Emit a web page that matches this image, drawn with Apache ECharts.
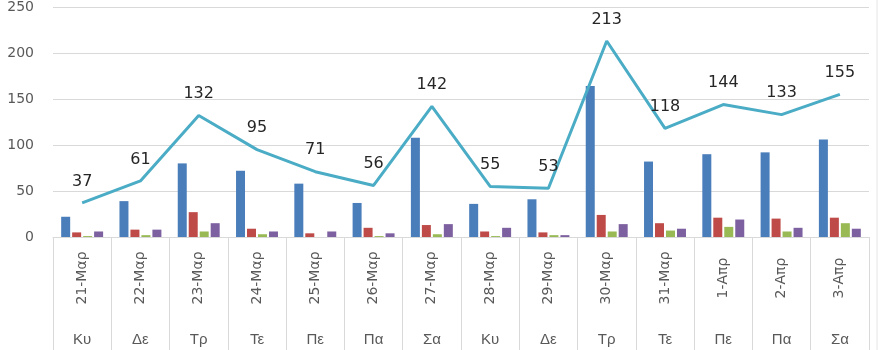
<!DOCTYPE html>
<html>
<head>
<meta charset="utf-8">
<script src="https://cdn.jsdelivr.net/npm/echarts@6/dist/echarts.min.js"></script>
<style>
  html, body { margin: 0; padding: 0; background: #ffffff; }
  #chart { width: 880px; height: 350px; }
</style>
</head>
<body>
<div id="chart"></div>
<script>
// Daily figures, 21 March – 3 April
const dates = ['21-Μαρ', '22-Μαρ', '23-Μαρ', '24-Μαρ', '25-Μαρ', '26-Μαρ', '27-Μαρ',
               '28-Μαρ', '29-Μαρ', '30-Μαρ', '31-Μαρ', '1-Απρ', '2-Απρ', '3-Απρ'];
const weekdays = ['Κυ', 'Δε', 'Τρ', 'Τε', 'Πε', 'Πα', 'Σα', 'Κυ', 'Δε', 'Τρ', 'Τε', 'Πε', 'Πα', 'Σα'];

const seriesBlue   = [22, 39, 80, 72, 58, 37, 108, 36, 41, 164, 82, 90, 92, 106];
const seriesRed    = [5, 8, 27, 9, 4, 10, 13, 6, 5, 24, 15, 21, 20, 21];
const seriesGreen  = [1, 2, 6, 3, 0, 1, 3, 1, 2, 6, 7, 11, 6, 15];
const seriesPurple = [6, 8, 15, 6, 6, 4, 14, 10, 2, 14, 9, 19, 10, 9];
const totals       = [37, 61, 132, 95, 71, 56, 142, 55, 53, 213, 118, 144, 133, 155];

const yTicks = { min: 0, max: 250, interval: 50 };

const gridColor = '#d9d9d9';
const textColor = '#595959';

function barSeries(values, color) {
  return {
    type: 'bar',
    data: values,
    barWidth: 9,
    barGap: '22%',
    itemStyle: { color: color },
    silent: true
  };
}

const chart = echarts.init(document.getElementById('chart'), null, { renderer: 'canvas' });

chart.setOption({
  animation: false,
  backgroundColor: '#ffffff',
  grid: { left: 53, right: 11, top: 6, bottom: 113 },
  // thin frame line on the right side of the chart area
  graphic: [{
    type: 'line',
    shape: { x1: 877, y1: 0, x2: 877, y2: 350 },
    style: { stroke: '#e6e6e6', lineWidth: 1 },
    silent: true
  }],
  xAxis: [
    {
      type: 'category',
      data: dates,
      boundaryGap: true,
      axisLine: { lineStyle: { color: gridColor, width: 1 } },
      axisTick: { show: true, length: 113, lineStyle: { color: gridColor } },
      axisLabel: {
        rotate: 90,
        align: 'center',
        verticalAlign: 'middle',
        margin: 41,
        color: textColor,
        fontFamily: 'DejaVu Sans',
        fontSize: 14
      }
    },
    {
      type: 'category',
      data: weekdays,
      position: 'bottom',
      boundaryGap: true,
      axisLine: { show: false },
      axisTick: { show: false },
      axisLabel: {
        verticalAlign: 'middle',
        margin: 103,
        color: textColor,
        fontFamily: 'Liberation Sans',
        fontSize: 15
      }
    }
  ],
  yAxis: {
    type: 'value',
    min: yTicks.min,
    max: yTicks.max,
    interval: yTicks.interval,
    axisLine: { show: false },
    axisTick: { show: false },
    splitLine: { lineStyle: { color: gridColor, width: 1 } },
    axisLabel: {
      margin: 19,
      color: textColor,
      fontFamily: 'DejaVu Sans',
      fontSize: 14
    }
  },
  series: [
    barSeries(seriesBlue, '#4a7ebb'),
    barSeries(seriesRed, '#be4b48'),
    barSeries(seriesGreen, '#98b954'),
    barSeries(seriesPurple, '#7d60a0'),
    {
      type: 'line',
      data: totals,
      symbol: 'circle',
      symbolSize: 1,
      showSymbol: true,
      itemStyle: { color: 'rgba(0,0,0,0)' },
      lineStyle: { color: '#4bacc6', width: 3 },
      label: {
        show: true,
        position: 'top',
        distance: 13,
        color: '#262626',
        fontFamily: 'DejaVu Sans',
        fontSize: 16
      },
      z: 5
    }
  ]
});
</script>
</body>
</html>
